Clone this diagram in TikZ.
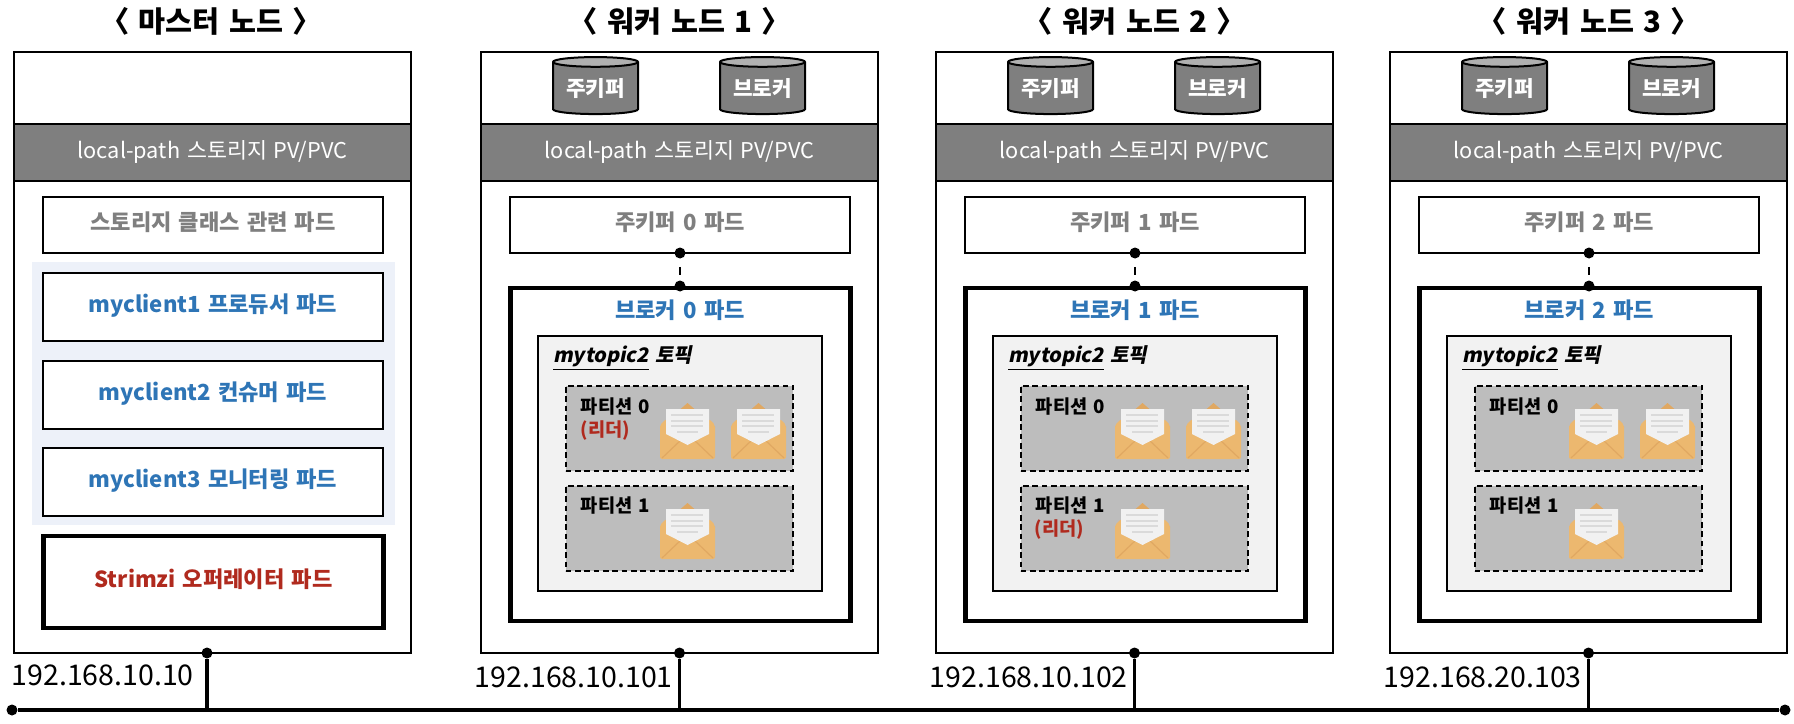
\documentclass[tikz,border=0pt]{standalone}
\usepackage{fontspec}
\setmainfont[WordSpace=1.4]{Noto Sans CJK KR}
\newfontfamily\slantkr[FakeSlant=0.2,WordSpace=1.4]{Noto Sans CJK KR}
\usetikzlibrary{shapes.geometric}
\definecolor{bandgray}{HTML}{7F7F7F}
\definecolor{podblue}{HTML}{2E75B6}
\definecolor{leadred}{HTML}{B02A1E}
\definecolor{clientbg}{HTML}{EDF1F9}
\definecolor{topicbg}{HTML}{F2F2F2}
\definecolor{partbg}{HTML}{BDBDBD}
\definecolor{cyltop}{HTML}{B0B0B0}
\definecolor{mailbody}{HTML}{ECB86F}
\definecolor{mailfold}{HTML}{E0A862}
\definecolor{mailpaper}{HTML}{F1F1F1}
\definecolor{mailline}{HTML}{DADADA}

\tikzset{
  nodebox/.style={draw, line width=1.5pt, outer sep=0pt, inner sep=0pt, minimum width=297.75pt, minimum height=450.75pt},
  bandbox/.style={draw, line width=1.5pt, fill=bandgray, text=white, outer sep=0pt, inner sep=0pt, minimum width=297.75pt, minimum height=42.4pt, font=\fontsize{16.3pt}{18pt}\selectfont},
  titletext/.style={font=\fontsize{22pt}{25pt}\selectfont\bfseries},
  podbox/.style={draw, line width=1.5pt, fill=white, outer sep=0pt, inner sep=0pt, minimum width=255pt, text height=12pt, text depth=4.5pt, font=\fontsize{16.6pt}{18pt}\selectfont\bfseries},
  thickpod/.style={podbox, line width=3.4pt},
  cylnode/.style={cylinder, shape border rotate=90, draw, line width=1.5pt, aspect=.165, cylinder uses custom fill, cylinder body fill=bandgray, cylinder end fill=cyltop, text=white, outer sep=0pt, inner sep=0pt, minimum width=63.75pt, minimum height=42.75pt, font=\fontsize{16pt}{18pt}\selectfont\bfseries},
  topicbox/.style={draw, line width=1.5pt, fill=topicbg, outer sep=0pt, minimum width=213.2pt, minimum height=191.5pt},
  partbox/.style={draw, line width=1.3pt, dash pattern=on 4.2pt off 2.8pt, fill=partbg, outer sep=0pt, minimum width=170.5pt, minimum height=64pt},
  parttext/.style={anchor=west, inner sep=0pt, font=\fontsize{14pt}{16pt}\selectfont\bfseries},
  iptext/.style={anchor=east, inner sep=0pt, font=\fontsize{21.4pt}{24pt}\selectfont},
  dotnode/.style={circle, fill=black, inner sep=0pt, minimum size=8.25pt},
  envelope/.pic={
    \fill[mailfold] (0,24) -- (27.5,0) -- (55,24) -- cycle;
    \fill[mailbody, rounded corners=1.5pt] (0,22) -- (6,16) -- (49,16) -- (55,22) -- (55,56) -- (0,56) -- cycle;
    \draw[mailfold, line width=.9pt] (2,55) -- (21,37) (53,55) -- (34,37);
    \fill[mailpaper] (6,6) -- (49,6) -- (49,31) -- (27.5,42) -- (6,31) -- cycle;
    \draw[mailline, line width=.9pt] (11,12) -- (43,12) (11,18) -- (43,18) (11,23) -- (43,23) (17,29) -- (38,29);
  }
}

\newcommand{\workerbox}[5]{%
\begin{scope}[xshift=#2*.75pt]
\node[titletext] (#1title) at (213,21) {〈 워커 노드 #3 〉};
\node[nodebox] (#1box) at (212.5,352.5) {};
\node[bandbox] (#1band) at (212.5,152.25) {local-path 스토리지 PV/PVC};
\node[cylnode] (#1zkdisk) at (128.5,88.5) {주키퍼};
\node[cylnode] (#1brkdisk) at (295.5,88.5) {브로커};
\node[podbox, text=bandgray, minimum height=42pt] (#1zkpod) at (213,225) {주키퍼 #4 파드};
\node[thickpod, minimum height=249.75pt] (#1brkpod) at (213.5,454.5) {};
\node[font=\fontsize{16.6pt}{18pt}\selectfont\bfseries, text=podblue, inner sep=0pt] (#1brktext) at (213,310) {브로커 #4 파드};
\node[dotnode] (#1zkdot) at (#1zkpod.south) {};
\node[dotnode] (#1brkdot) at (213,286) {};
\draw[line width=1.5pt, dash pattern=on 0pt off 6pt on 6pt off 20pt] (#1zkdot) -- (#1brkdot);
\node[topicbox] (#1topic) at (213,463.35) {};
\node[anchor=west, inner sep=0pt, font=\fontsize{15pt}{16pt}\selectfont\bfseries] (#1topictext) at (86,358) {\slantkr\underline{mytopic2} 토픽};
\node[partbox] (#1part0) at (212.4,428.3) {};
\node[partbox] (#1part1) at (212.4,528.3) {};
\node[parttext] (#1part0text) at (113.7,407) {파티션 0};
\node[parttext] (#1part1text) at (113.7,506) {파티션 1};
\pic at (193,403) {envelope};
\pic at (264,403) {envelope};
\pic at (193,503) {envelope};
\node[dotnode] (#1dot) at (#1box.south) {};
\draw[line width=2.6pt] (#1dot) -- (#1dot |- busL);
\node[iptext] (#1ip) at (206,677) {#5};
\end{scope}}

\begin{document}
\begin{tikzpicture}[x=.75pt, y=-.75pt]
\useasboundingbox (0,0) rectangle (1794,724);
\node[dotnode] (busL) at (12,710) {};
\node[dotnode] (busR) at (1785,710) {};
\draw[line width=2.4pt] (busL) -- (busR);

% master
\node[titletext] (mtitle) at (211,21) {〈 마스터 노드 〉};
\node[nodebox] (mbox) at (212.5,352.5) {};
\node[bandbox] (mband) at (212.5,152.25) {local-path 스토리지 PV/PVC};
\node[podbox, text=bandgray, minimum height=42pt] (mstorage) at (213,225) {스토리지 클래스 관련 파드};
\fill[clientbg] (32,262) rectangle (395,525);
\node[podbox, text=podblue, minimum height=51pt] (mclient1) at (213,307) {myclient1 프로듀서 파드};
\node[podbox, text=podblue, minimum height=51pt] (mclient2) at (213,395) {myclient2 컨슈머 파드};
\node[podbox, text=podblue, minimum height=51pt] (mclient3) at (213,482) {myclient3 모니터링 파드};
\node[thickpod, text=leadred, minimum height=69pt] (mstrimzi) at (213.5,582) {Strimzi 오퍼레이터 파드};
\node[dotnode] (mdot) at (207,653) {};
\draw[line width=2.6pt] (mdot) -- (mdot |- busL);
\node[iptext] (mip) at (194,675) {192.168.10.10};

% workers
\workerbox{wa}{467}{1}{0}{192.168.10.101}
\workerbox{wb}{922}{2}{1}{192.168.10.102}
\workerbox{wc}{1376}{3}{2}{192.168.20.103}

% leader marks
\node[parttext, text=leadred] (waleader) at (580.7,431) {(리더)};
\node[parttext, text=leadred] (wbleader) at (1034.7,530) {(리더)};
\end{tikzpicture}
\end{document}
